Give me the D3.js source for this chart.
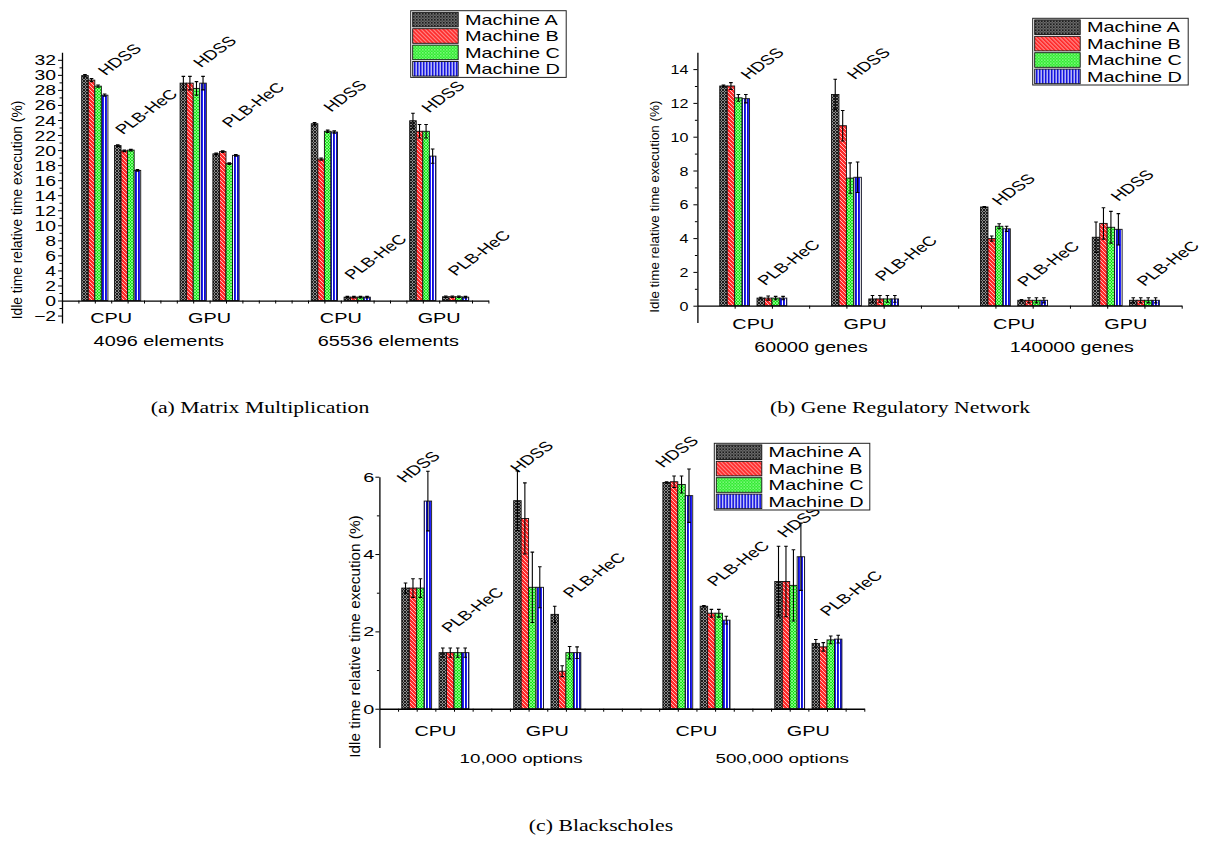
<!DOCTYPE html>
<html>
<head>
<meta charset="utf-8">
<script src="https://cdn.jsdelivr.net/npm/d3@7"></script>
<style>
  body { margin: 0; background: #fff; }
  svg { display: block; }
</style>
</head>
<body>
<script>
// ---------- shared categories ----------
const machines = ["Machine A", "Machine B", "Machine C", "Machine D"];
const devices = ["CPU", "GPU"];
const methods = ["HDSS", "PLB-HeC"];

// Group order in every panel: size -> device -> method
// (small CPU HDSS, small CPU PLB-HeC, small GPU HDSS, small GPU PLB-HeC, large ...)

// ---------- (a) Matrix Multiplication ----------
const mmSizes = ["4096 elements", "65536 elements"];
const mmMeans = [
  [29.9, 29.3, 28.5, 27.3],
  [20.6, 19.9, 20.0, 17.3],
  [28.9, 28.9, 28.2, 28.9],
  [19.5, 19.8, 18.2, 19.3],
  [23.5, 18.8, 22.5, 22.4],
  [0.45, 0.45, 0.45, 0.45],
  [23.9, 22.5, 22.5, 19.2],
  [0.5, 0.5, 0.5, 0.45]
];
const mmErrors = [
  [0.15, 0.2, 0.15, 0.15],
  [0.1, 0.1, 0.1, 0.1],
  [0.9, 0.9, 0.9, 0.9],
  [0.1, 0.1, 0.1, 0.1],
  [0.15, 0.15, 0.15, 0.15],
  [0.1, 0.1, 0.1, 0.1],
  [1.0, 0.9, 0.9, 0.95],
  [0.1, 0.1, 0.1, 0.1]
];
const mmYTicks = d3.range(-2, 33, 2);
// annotation anchors (axis units)
const mmNoteX = [1.05, 1.57, 3.95, 4.83, 7.92, 8.56, 10.91, 11.72];
const mmNoteY = [29.85, 22.0, 30.9, 22.9, 25.0, 2.7, 24.9, 3.2];

// ---------- (b) Gene Regulatory Network ----------
const grnSizes = ["60000 genes", "140000 genes"];
const grnMeans = [
  [13.0, 13.0, 12.3, 12.25],
  [0.45, 0.45, 0.45, 0.45],
  [12.5, 10.65, 7.55, 7.6],
  [0.4, 0.4, 0.4, 0.4],
  [5.84, 3.97, 4.7, 4.55],
  [0.32, 0.32, 0.32, 0.32],
  [4.05, 4.87, 4.64, 4.52],
  [0.32, 0.32, 0.32, 0.32]
];
const grnErrors = [
  [0.05, 0.2, 0.2, 0.25],
  [0.05, 0.12, 0.1, 0.1],
  [0.9, 0.9, 0.9, 0.9],
  [0.2, 0.2, 0.2, 0.2],
  [0.02, 0.15, 0.15, 0.15],
  [0.05, 0.15, 0.15, 0.15],
  [0.9, 0.93, 0.94, 0.93],
  [0.15, 0.15, 0.15, 0.15]
];
const grnYTicks = d3.range(0, 15, 2);
const grnNoteX = [1.12, 1.57, 3.97, 4.72, 7.86, 8.54, 11.05, 11.75];
const grnNoteY = [13.36, 1.17, 13.36, 1.42, 5.9, 1.09, 6.15, 1.12];

// ---------- (c) Blackscholes ----------
const bsSizes = ["10,000 options", "500,000 options"];
const bsMeans = [
  [3.12, 3.12, 3.12, 5.37],
  [1.45, 1.45, 1.45, 1.45],
  [5.38, 4.92, 3.14, 3.14],
  [2.44, 0.97, 1.45, 1.45],
  [5.85, 5.87, 5.80, 5.51],
  [2.65, 2.47, 2.47, 2.29],
  [3.29, 3.29, 3.19, 3.93],
  [1.69, 1.60, 1.78, 1.80]
];
const bsErrors = [
  [0.13, 0.24, 0.24, 0.77],
  [0.12, 0.12, 0.12, 0.12],
  [0.77, 0.92, 0.91, 0.53],
  [0.21, 0.14, 0.16, 0.15],
  [0.02, 0.15, 0.22, 0.69],
  [0.02, 0.1, 0.1, 0.1],
  [0.91, 0.91, 0.92, 0.87],
  [0.1, 0.11, 0.1, 0.1]
];
const bsYTicks = [0, 2, 4, 6];
const bsNoteX = [0.42, 1.62, 3.46, 4.88, 7.35, 8.74, 10.62, 11.77];
const bsNoteY = [5.83, 1.95, 6.09, 2.85, 6.22, 3.15, 4.41, 2.38];

const yTitle = "Idle time relative time execution (%)";

// ---------- drawing ----------
const W = 1205, H = 844;
const SANS = "'Liberation Sans', Arial, sans-serif";
const SERIF = "'Liberation Serif', 'Times New Roman', serif";
const STRETCH = 1.38; // horizontal text widening used throughout the figure
const NOTE_FONT = 13.5;

const svg = d3.select("body").append("svg")
  .attr("width", W).attr("height", H)
  .attr("viewBox", `0 0 ${W} ${H}`);

// hatch fills, one per machine
const defs = svg.append("defs");
function pattern(id, w, h) {
  return defs.append("pattern").attr("id", id)
    .attr("patternUnits", "userSpaceOnUse").attr("width", w).attr("height", h);
}
{
  const p = pattern("pat0", 3, 3);
  p.append("rect").attr("width", 3).attr("height", 3).attr("fill", "#8c8c8c");
  p.append("path").attr("d", "M0,0L3,3M3,0L0,3").attr("stroke", "#1c1c1c").attr("stroke-width", 1);
}
{
  const p = pattern("pat1", 4, 4);
  p.append("rect").attr("width", 4).attr("height", 4).attr("fill", "#ff2a2a");
  p.append("path").attr("d", "M0,0L4,4M-1,3L1,5M3,-1L5,1").attr("stroke", "#ffc0c0").attr("stroke-width", 1);
}
{
  const p = pattern("pat2", 3, 3);
  p.append("rect").attr("width", 3).attr("height", 3).attr("fill", "#14e614");
  p.append("path").attr("d", "M0,0L3,3M3,0L0,3").attr("stroke", "#a8ffa8").attr("stroke-width", 0.7);
}
{
  const p = pattern("pat3", 3, 3);
  p.append("rect").attr("width", 3).attr("height", 3).attr("fill", "#2424ff");
  p.append("rect").attr("x", 2).attr("width", 1).attr("height", 3).attr("fill", "#ffffff");
  p.append("rect").attr("x", 0).attr("width", 1).attr("height", 3).attr("fill", "#1010c0");
}

function wideText(parent, x, y, str, o = {}) {
  const rot = o.rotate ? ` rotate(${o.rotate})` : "";
  return parent.append("text")
    .attr("transform", `translate(${x},${y}) scale(${o.stretch ?? STRETCH},1)${rot}`)
    .attr("text-anchor", o.anchor || "start")
    .attr("font-family", o.family || SANS)
    .attr("font-size", o.size || 14)
    .attr("fill", "#000")
    .text(str);
}

function drawPanel(cfg) {
  const g = svg.append("g");
  const x = d3.scaleLinear().domain([0, 13]).range([cfg.left, cfg.right]);
  const y = d3.scaleLinear().domain(cfg.yDomain).range([cfg.bottom, cfg.top]);
  const y0 = y(0);
  const slotOf = gi => Math.floor(gi / 4) * 7 + Math.floor((gi % 4) / 2) * 3 + (gi % 2) + 1;

  // bars + error bars
  cfg.means.forEach((vals, gi) => {
    const slot = slotOf(gi);
    vals.forEach((v, mi) => {
      const xa = x(slot - 0.4 + mi * 0.2), xb = x(slot - 0.2 + mi * 0.2);
      g.append("rect")
        .attr("x", xa).attr("y", y(v))
        .attr("width", xb - xa).attr("height", y0 - y(v))
        .attr("fill", `url(#pat${mi})`)
        .attr("stroke", "#111").attr("stroke-width", 0.9);
    });
    vals.forEach((v, mi) => {
      const e = cfg.errors[gi][mi];
      const cx = x(slot - 0.3 + mi * 0.2);
      const yt = y(v + e), yb = y(v - e);
      g.append("path")
        .attr("d", `M${cx},${yt}V${yb}M${cx - 1.8},${yt}H${cx + 1.8}M${cx - 1.8},${yb}H${cx + 1.8}`)
        .attr("stroke", "#000").attr("stroke-width", 1.1).attr("fill", "none");
    });
  });

  // y axis: major + minor ticks
  const yMinor = d3.range(Math.ceil(cfg.yDomain[0]), cfg.yDomain[1] + 0.001, 1)
    .filter(v => !cfg.yTicks.includes(v) && v > cfg.yDomain[0] && v < cfg.yDomain[1]);
  const yMin = g.append("g").attr("transform", `translate(${cfg.left},0)`)
    .call(d3.axisLeft(y).tickValues(yMinor).tickFormat("").tickSize(2.5).tickSizeOuter(0));
  yMin.select(".domain").remove();
  const yAx = g.append("g").attr("transform", `translate(${cfg.left},0)`)
    .call(d3.axisLeft(y).tickValues(cfg.yTicks).tickFormat(d3.format("d")).tickSize(4).tickSizeOuter(0));
  yAx.select(".domain").attr("stroke", "#000").attr("stroke-width", 1.3);
  g.selectAll(".tick line").attr("stroke", "#000").attr("stroke-width", 1);
  yAx.selectAll(".tick text")
    .attr("x", null).attr("dy", null)
    .attr("transform", `translate(${-cfg.tickGap},${cfg.tickFont * 0.36}) scale(${cfg.tickStretch},1)`)
    .attr("text-anchor", "end")
    .attr("font-family", SANS).attr("font-size", cfg.tickFont).attr("fill", "#000");

  // x axis along zero
  const xAx = g.append("g").attr("transform", `translate(0,${y0})`)
    .call(d3.axisBottom(x).tickValues(cfg.xTicks).tickFormat("").tickSize(3).tickSizeOuter(0));
  xAx.select(".domain").attr("stroke", "#000").attr("stroke-width", 1.3);
  xAx.selectAll(".tick line").attr("stroke", "#000");

  // device + size labels
  cfg.sizes.forEach((s, si) => {
    devices.forEach((d, di) => {
      wideText(g, x(si * 7 + di * 3 + 1.5), y0 + cfg.catDy, d, { anchor: "middle", size: 14.4 });
    });
    wideText(g, x(si * 7 + 3 + cfg.sizeShift), y0 + cfg.sizeDy, s, { anchor: "middle", size: cfg.sizeFont });
  });

  // method annotations: anchors give the lower-left corner of the slanted label box
  const lean = 0.707 * 0.716 * NOTE_FONT * STRETCH;
  cfg.means.forEach((vals, gi) => {
    wideText(g, x(cfg.noteX[gi]) + lean, y(cfg.noteY[gi]), methods[gi % 2],
      { size: NOTE_FONT, rotate: -45 });
  });

  // y title
  g.append("text")
    .attr("transform", `translate(${cfg.titleX},${cfg.titleY}) rotate(-90)`)
    .attr("text-anchor", "middle")
    .attr("font-family", SANS).attr("font-size", cfg.titleFont).attr("fill", "#000")
    .text(yTitle);

  // legend
  const lg = g.append("g").attr("transform", `translate(${cfg.legend[0]},${cfg.legend[1]})`);
  lg.append("rect").attr("width", 155.5).attr("height", 66.7)
    .attr("fill", "#fff").attr("stroke", "#222").attr("stroke-width", 1);
  machines.forEach((m, i) => {
    lg.append("rect").attr("x", 2).attr("y", 1.6 + i * 16.4)
      .attr("width", 45.5).attr("height", 14.6)
      .attr("fill", `url(#pat${i})`).attr("stroke", "#111").attr("stroke-width", 0.9);
    wideText(lg, 54.3, 14 + i * 16.4, m, { size: 14.4 });
  });
}

drawPanel({
  left: 62, right: 488.4, top: 52.3, bottom: 323.1, yDomain: [-3, 33],
  yTicks: mmYTicks, xTicks: d3.range(0.5, 13.01, 0.5),
  means: mmMeans, errors: mmErrors, sizes: mmSizes,
  noteX: mmNoteX, noteY: mmNoteY,
  tickGap: 6, tickFont: 14, tickStretch: 1.38,
  catDy: 22.8, sizeDy: 45.5, sizeFont: 14.4, sizeShift: -0.05,
  titleX: 22.4, titleY: 210, titleFont: 13.8,
  legend: [410.7, 10.7]
});

drawPanel({
  left: 697.4, right: 1181.7, top: 52.2, bottom: 322.6, yDomain: [-1, 15],
  yTicks: grnYTicks, xTicks: d3.range(1, 13.01, 1),
  means: grnMeans, errors: grnErrors, sizes: grnSizes,
  noteX: grnNoteX, noteY: grnNoteY,
  tickGap: 9, tickFont: 12.6, tickStretch: 1.28,
  catDy: 23.6, sizeDy: 46, sizeFont: 14.2, sizeShift: 0.05,
  titleX: 659.3, titleY: 206.7, titleFont: 13.4,
  legend: [1032.7, 18.3]
});

drawPanel({
  left: 379.4, right: 864.3, top: 476.7, bottom: 747.4, yDomain: [-1, 6],
  yTicks: bsYTicks, xTicks: d3.range(0.5, 13.01, 0.5),
  means: bsMeans, errors: bsErrors, sizes: bsSizes,
  noteX: bsNoteX, noteY: bsNoteY,
  tickGap: 5, tickFont: 12.8, tickStretch: 1.55,
  catDy: 27.3, sizeDy: 54.6, sizeFont: 13.6, sizeShift: 0.8,
  titleX: 359.5, titleY: 636.5, titleFont: 15.3,
  legend: [714.3, 443.3]
});

// sub-figure captions
const CAP = { anchor: "middle", family: SERIF, size: 17.4, stretch: 1.25 };
wideText(svg, 260, 413, "(a) Matrix Multiplication", CAP);
wideText(svg, 900, 413, "(b) Gene Regulatory Network", CAP);
wideText(svg, 601, 831, "(c) Blackscholes", CAP);
</script>
</body>
</html>
